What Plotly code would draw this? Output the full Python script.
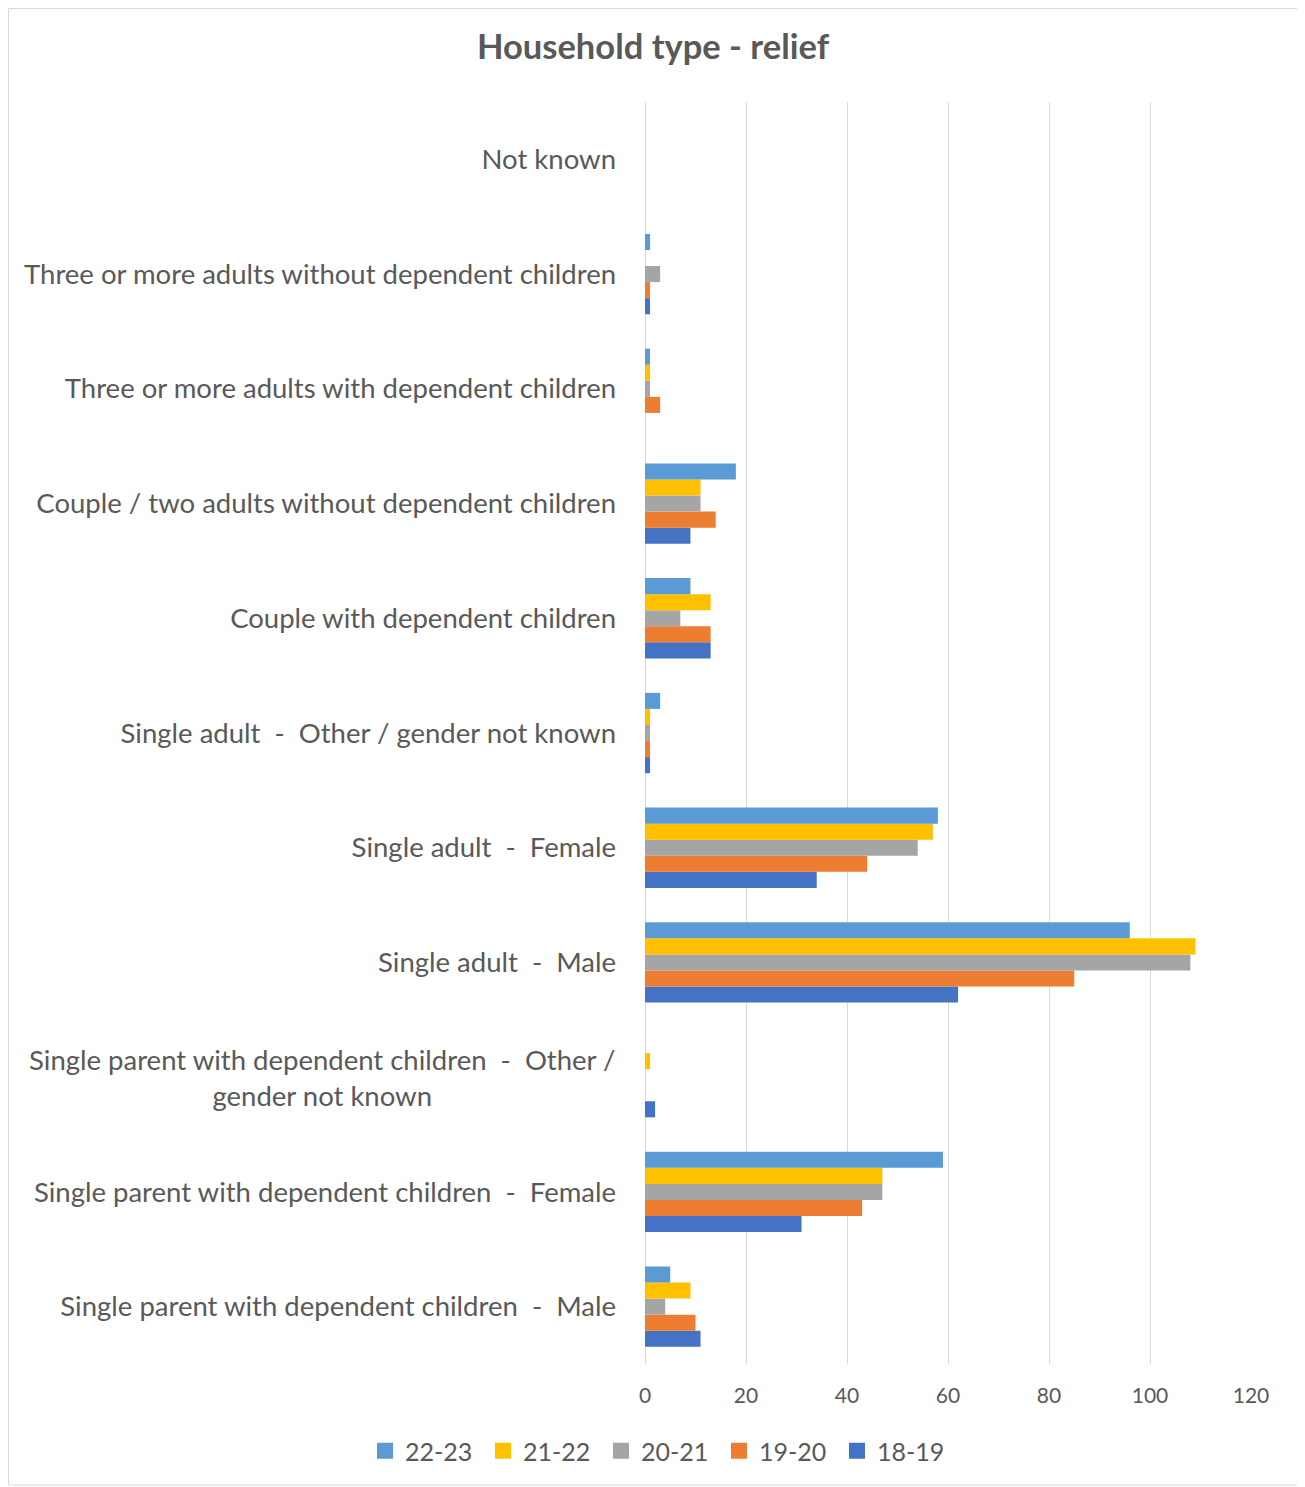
import plotly.graph_objects as go

NB = "\u00a0"
SEP = NB + " - " + NB
categories = [
    "Single parent with dependent children" + SEP + "Male",
    "Single parent with dependent children" + SEP + "Female",
    "Single parent with dependent children" + SEP + "Other /<br>gender not known",
    "Single adult" + SEP + "Male",
    "Single adult" + SEP + "Female",
    "Single adult" + SEP + "Other / gender not known",
    "Couple with dependent children",
    "Couple / two adults without dependent children",
    "Three or more adults with dependent children",
    "Three or more adults without dependent children",
    "Not known",
]
WRAPPED = categories[2]

series_names = ["18-19", "19-20", "20-21", "21-22", "22-23"]
v_18_19 = [11, 31, 2, 62, 34, 1, 13, 9, 0, 1, 0]
v_19_20 = [10, 43, 0, 85, 44, 1, 13, 14, 3, 1, 0]
v_20_21 = [4, 47, 0, 108, 54, 1, 7, 11, 1, 3, 0]
v_21_22 = [9, 47, 1, 109, 57, 1, 13, 11, 1, 0, 0]
v_22_23 = [5, 59, 0, 96, 58, 3, 9, 18, 1, 1, 0]
series_values = [v_18_19, v_19_20, v_20_21, v_21_22, v_22_23]
colors = ["#4472C4", "#ED7D31", "#A5A5A5", "#FFC000", "#5B9BD5"]
x_ticks = [0, 20, 40, 60, 80, 100, 120]

fig = go.Figure()
for name, vals, col in zip(series_names, series_values, colors):
    fig.add_trace(go.Bar(y=categories, x=vals, name=name, orientation="h",
                         marker=dict(color=col, line=dict(width=0)), showlegend=False))
# legend-only entries with larger square swatches
for name, col in zip(series_names, colors):
    fig.add_trace(go.Scatter(x=[None], y=[None], mode="markers", name=name,
                             marker=dict(symbol="square", size=16, color=col)))

# page body has an 8px margin; compensate
OFF = 8
W, H = 1305 - OFF, 1487 - OFF
L, T = 645 - OFF, 102 - OFF
pw, ph = 606, 1262
R = W - L - pw
B = H - T - ph
ybot = T + ph

def py(ref_y):
    return (ybot - (ref_y - OFF)) / ph

def px(ref_x):
    return ((ref_x - OFF) - L) / pw

FONT = "Lato"
TXT = "#595959"
LBL = 27.5
ticktext = ["" if c == WRAPPED else c for c in categories]

fig.update_layout(
    width=W, height=H,
    margin=dict(l=L, r=R, t=T, b=B, autoexpand=False),
    paper_bgcolor="white", plot_bgcolor="white",
    barmode="group", bargap=0.3, bargroupgap=0,
    font=dict(family=FONT, color=TXT),
    title=dict(text="<b>Household type - relief</b>", x=(653 - OFF) / W, xanchor="center",
               y=1 - (47 - OFF) / H, yanchor="middle", font=dict(size=34.5, color=TXT)),
    legend=dict(orientation="h", traceorder="reversed", x=px(660), xanchor="center",
                y=py(1451), yanchor="middle", font=dict(size=25, color=TXT),
                itemwidth=30, entrywidth=73, itemsizing="trace",
                bgcolor="rgba(0,0,0,0)"),
    xaxis=dict(range=[0, 120], tickvals=x_ticks, showgrid=True, gridcolor="#D9D9D9",
               gridwidth=1, zeroline=True, zerolinecolor="#D9D9D9", zerolinewidth=1,
               tickfont=dict(size=21, color=TXT), ticklabelstandoff=17,
               showline=False, fixedrange=True),
    yaxis=dict(categoryorder="array", categoryarray=categories, showgrid=False,
               tickmode="array", tickvals=categories, ticktext=ticktext,
               tickfont=dict(size=LBL, color=TXT), ticklabelstandoff=28,
               showline=False, zeroline=False),
    annotations=[dict(text=WRAPPED, x=0, xref="paper", y=WRAPPED, yref="y",
                      xanchor="right", yanchor="middle", xshift=-28, align="center",
                      showarrow=False, font=dict(size=LBL, color=TXT, family=FONT))],
    shapes=[dict(type="rect", xref="paper", yref="paper",
                 x0=px(8.5), x1=px(1299), y0=py(1485), y1=py(8.5),
                 line=dict(color="#D9D9D9", width=1))],
)

fig.write_html("out.html")
